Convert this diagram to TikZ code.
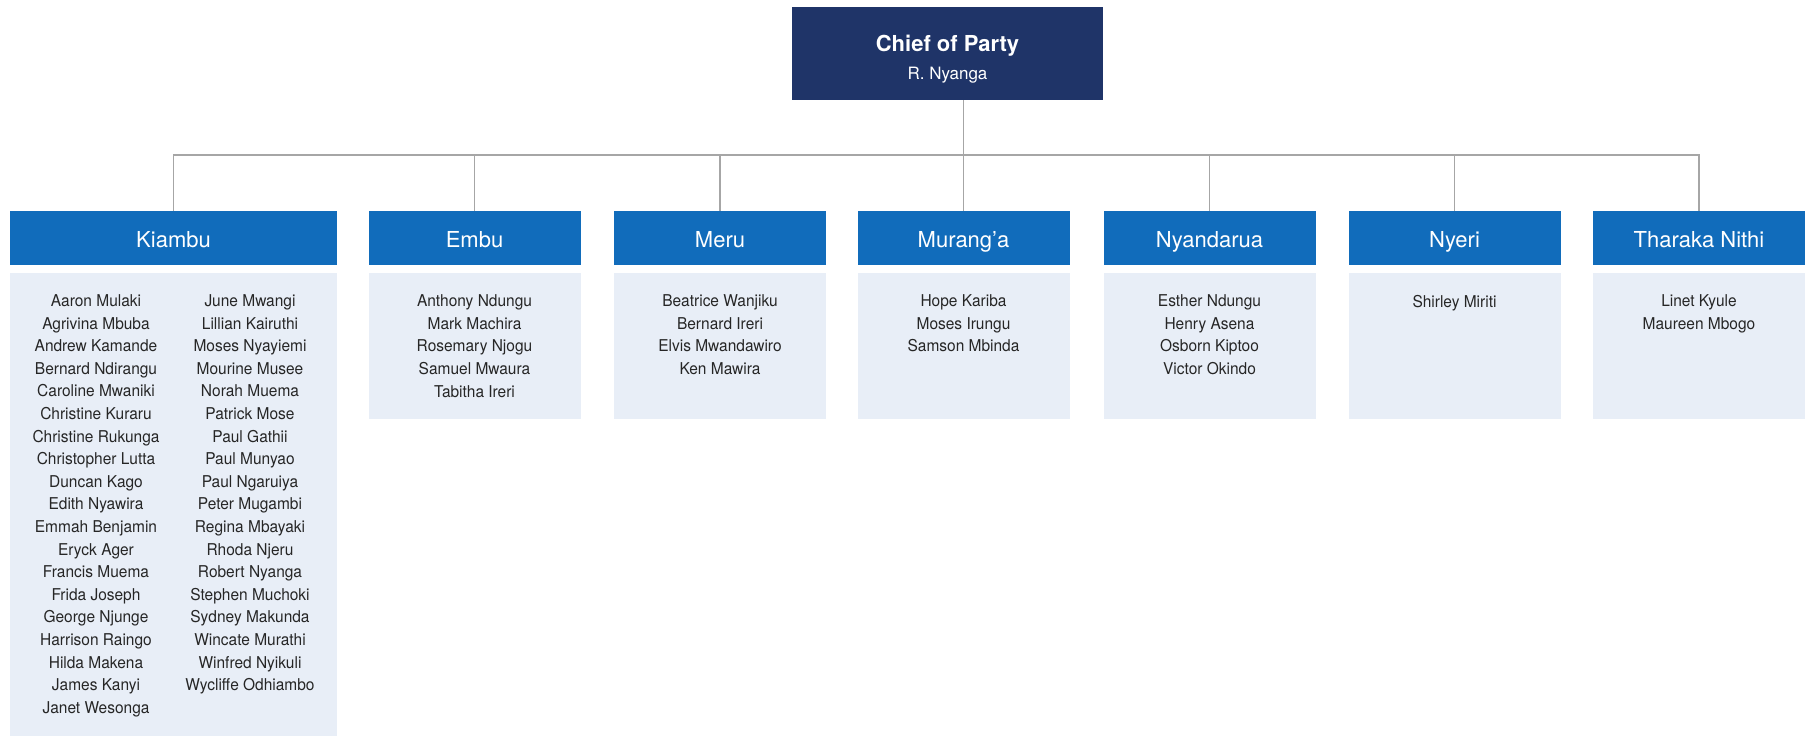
\documentclass[tikz,border=0pt]{standalone}
\usepackage{fontspec}
\setmainfont{TeX Gyre Heros}
\newfontfamily\namefont[FakeStretch=0.95]{TeX Gyre Heros}
\definecolor{partyblue}{HTML}{1F3468}
\definecolor{countyblue}{HTML}{116CBB}
\definecolor{listbg}{HTML}{E8EEF7}
\definecolor{linkgray}{HTML}{A6A6A6}
\definecolor{namegray}{HTML}{262626}
\begin{document}
\begin{tikzpicture}[x=1pt,y=1pt,
  chief/.style={rectangle,fill=partyblue,text=white,minimum width=311,minimum height=93,align=center,inner sep=0,font=\fontsize{17}{28}\selectfont},
  county/.style={rectangle,fill=countyblue,text=white,minimum width=212,minimum height=54,inner sep=0,text height=19,text depth=1,font=\fontsize{22}{22}\selectfont},
  list/.style={rectangle,fill=listbg,minimum width=212,minimum height=146,anchor=north,inner sep=0},
  names/.style={anchor=north,align=center,inner sep=0,text=namegray,font=\namefont\fontsize{16.3}{22.6}\selectfont},
  link/.style={draw=linkgray,line width=1.5}]
\useasboundingbox (0,0) rectangle (1805,-736);

\node[chief] (cop) at (947.5,-53.5){\rule{0pt}{28.6pt}{\bfseries\fontsize{22}{28}\selectfont Chief of Party}\\R. Nyanga};

\node[county,minimum width=327] (kia) at (173.5,-238){Kiambu};
\node[county] (emb) at (474.5,-238){Embu};
\node[county] (mer) at (720,-238){Meru};
\node[county] (mur) at (963.5,-238){Murang’a};
\node[county] (nya) at (1209.5,-238){Nyandarua};
\node[county] (nye) at (1454.5,-238){Nyeri};
\node[county] (tha) at (1699,-238){Tharaka Nithi};

\node[list,minimum width=327,minimum height=463] (kiaL) at ([yshift=-8]kia.south){};
\node[list] (embL) at ([yshift=-8]emb.south){};
\node[list] (merL) at ([yshift=-8]mer.south){};
\node[list] (murL) at ([yshift=-8]mur.south){};
\node[list] (nyaL) at ([yshift=-8]nya.south){};
\node[list] (nyeL) at ([yshift=-8]nye.south){};
\node[list] (thaL) at ([yshift=-8]tha.south){};

%%%%%%%%
\node[names] (kiaA) at (96,-294.5){Aaron Mulaki\\Agrivina Mbuba\\Andrew Kamande\\Bernard Ndirangu\\Caroline Mwaniki\\Christine Kuraru\\Christine Rukunga\\Christopher Lutta\\Duncan Kago\\Edith Nyawira\\Emmah Benjamin\\Eryck Ager\\Francis Muema\\Frida Joseph\\George Njunge\\Harrison Raingo\\Hilda Makena\\James Kanyi\\Janet Wesonga};
\node[names] (kiaB) at (250,-294.5){June Mwangi\\Lillian Kairuthi\\Moses Nyayiemi\\Mourine Musee\\Norah Muema\\Patrick Mose\\Paul Gathii\\Paul Munyao\\Paul Ngaruiya\\Peter Mugambi\\Regina Mbayaki\\Rhoda Njeru\\Robert Nyanga\\Stephen Muchoki\\Sydney Makunda\\Wincate Murathi\\Winfred Nyikuli\\Wycliffe Odhiambo};
\node[names] (embN) at ([yshift=-21.5]embL.north){Anthony Ndungu\\Mark Machira\\Rosemary Njogu\\Samuel Mwaura\\Tabitha Ireri};
\node[names] (merN) at ([yshift=-21.5]merL.north){Beatrice Wanjiku\\Bernard Ireri\\Elvis Mwandawiro\\Ken Mawira};
\node[names] (murN) at ([yshift=-21.5]murL.north){Hope Kariba\\Moses Irungu\\Samson Mbinda};
\node[names] (nyaN) at ([yshift=-21.5]nyaL.north){Esther Ndungu\\Henry Asena\\Osborn Kiptoo\\Victor Okindo};
\node[names] (nyeN) at ([yshift=-21.5]nyeL.north){Shirley Miriti};
\node[names] (thaN) at ([yshift=-21.5]thaL.north){Linet Kyule\\Maureen Mbogo};

%%%%%%%%
\coordinate (bar) at (0,-155);
\path [link] (cop.south -| mur.north) edge (mur.north);
\draw [link] (kia.north) |- (bar -| tha.north) -- (tha.north);
\path [link] (emb.north |- bar) edge (emb.north);
\path [link] (mer.north |- bar) edge (mer.north);
\path [link] (nya.north |- bar) edge (nya.north);
\path [link] (nye.north |- bar) edge (nye.north);
\end{tikzpicture}
\end{document}
